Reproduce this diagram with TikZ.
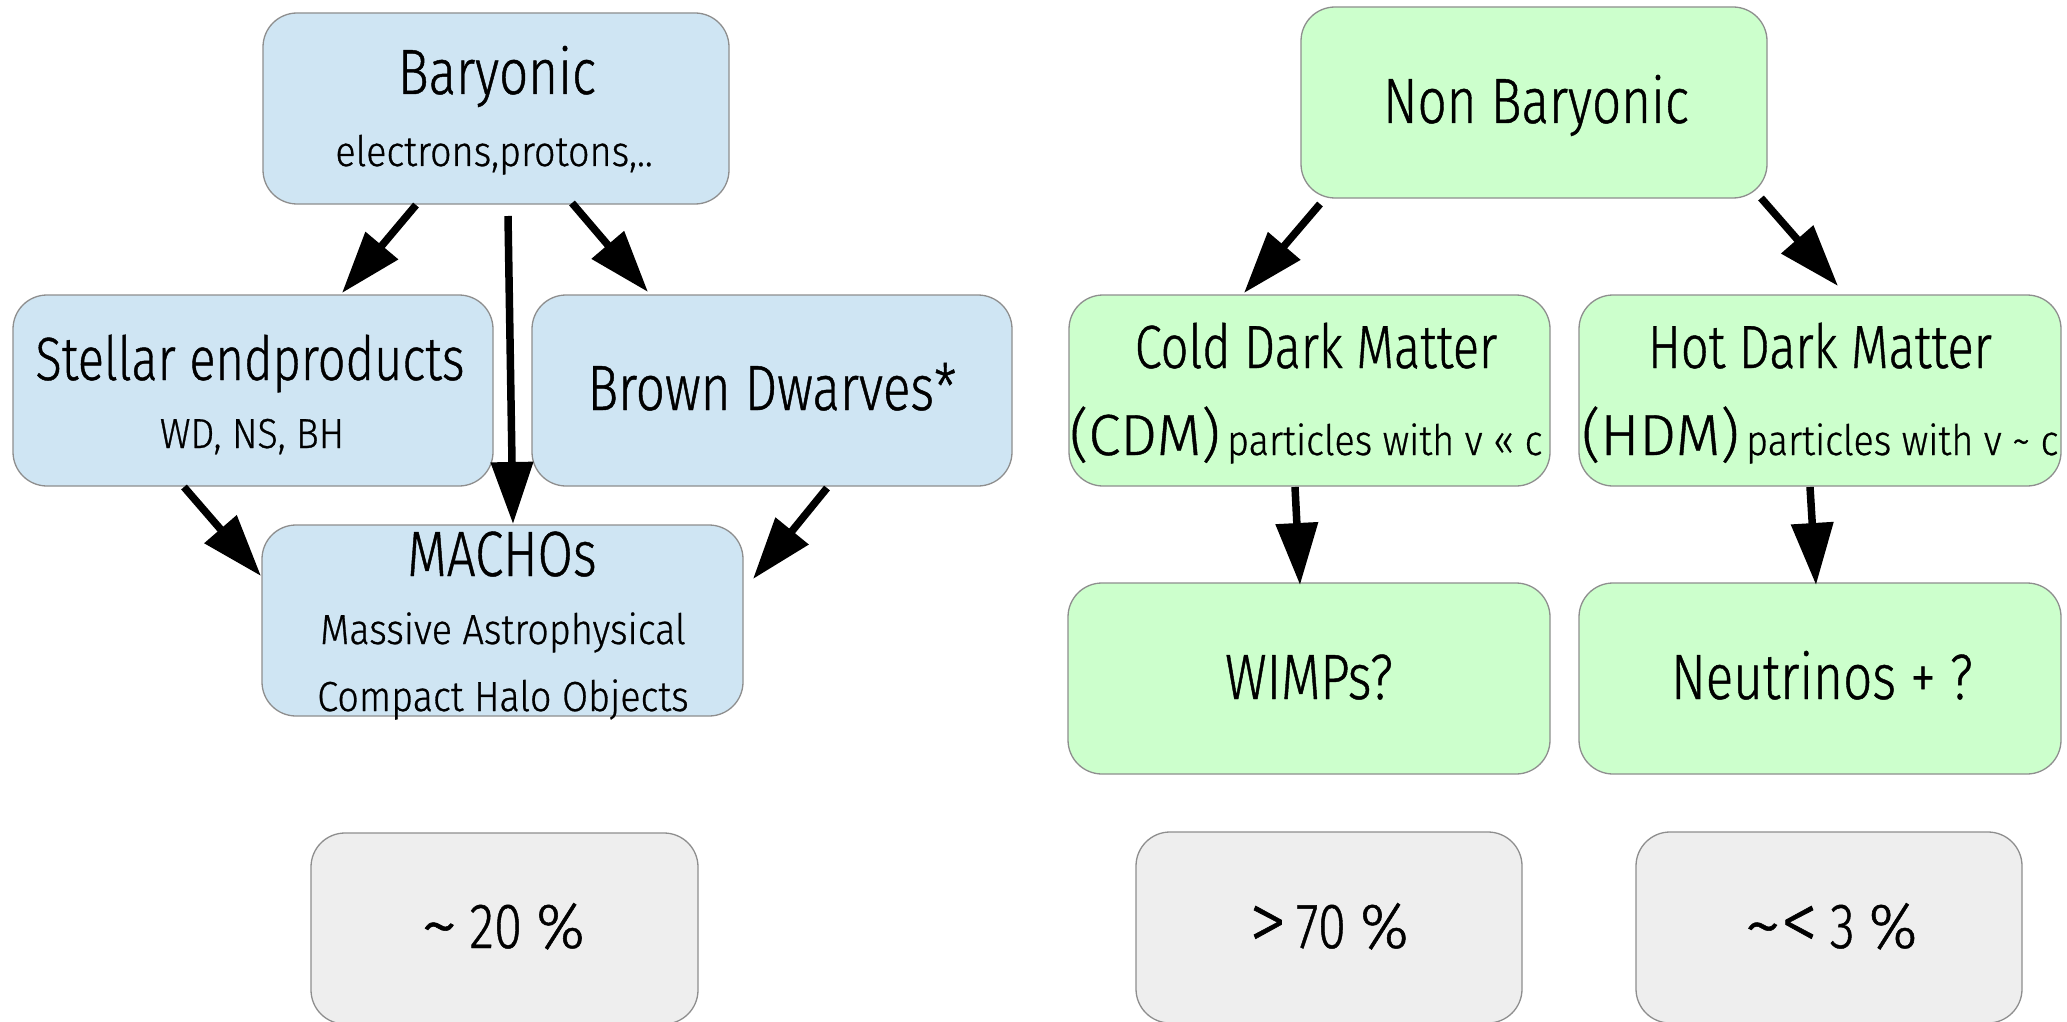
\documentclass[tikz,border=0pt]{standalone}
\usepackage{fontspec}
\setmainfont{Fira Sans}[UprightFont={* Light}, FakeStretch=0.8, FakeBold=0.7]
\newfontfamily\widefam{Fira Sans}[UprightFont={* Light}, FakeStretch=0.9, FakeBold=0.7]
\newfontfamily\fullfam{Fira Sans}[UprightFont={* Light}, FakeBold=0.7]
\usetikzlibrary{arrows.meta,calc}

\definecolor{barblue}{HTML}{CFE5F3}
\definecolor{nbgreen}{HTML}{CCFFCC}
\definecolor{pctgray}{HTML}{EEEEEE}
\definecolor{edgegray}{HTML}{8E8E8E}

\newcommand\bigtxt{\fontsize{64}{72}\selectfont}
\newcommand\midtxt{\fontsize{61}{70}\selectfont}
\newcommand\abbrtxt{\fullfam\fontsize{58}{66}\selectfont}
\newcommand\smalltxt{\widefam\fontsize{42}{50}\selectfont}
% wider relation signs, tilde and percent sign of the percentage labels
\newcommand\wtilde{\raisebox{-3pt}{\scalebox{1.5}[1.2]{\textasciitilde}}}
\newcommand\wless{\raisebox{-2pt}{\scalebox{1.45}[1.3]{<}}}
\newcommand\wmore{\raisebox{-2pt}{\scalebox{1.45}[1.3]{>}}}
\newcommand\wpct{\scalebox{1.2}[1]{\%}}

\begin{document}
\begin{tikzpicture}[x=1pt,y=-1pt,
  box/.style={draw=edgegray, line width=1.3pt, rounded corners=34pt,
    anchor=north west, inner sep=0pt, outer sep=0pt, minimum height=191pt},
  bluebox/.style={box, fill=barblue},
  greenbox/.style={box, fill=nbgreen},
  graybox/.style={box, fill=pctgray},
  txt/.style={anchor=base, inner sep=0pt, outer sep=0pt},
  flow/.style={line width=7.5pt, -{Triangle[length=62pt,width=41pt]}}]

\fill[white] (0,0) rectangle (2067,1022);
\useasboundingbox (0,0) rectangle (2067,1022);

% baryonic branch
\node[bluebox, minimum width=466pt] (bary) at (263,13) {};
\node[bluebox, minimum width=480pt] (stell) at (13,295) {};
\node[bluebox, minimum width=480pt] (brown) at (532,295) {};
\node[bluebox, minimum width=481pt] (macho) at (262,525) {};
\node[graybox, minimum width=387pt] (pctA) at (311,833) {};

% non-baryonic branch
\node[greenbox, minimum width=466pt] (nonb) at (1301,7) {};
\node[greenbox, minimum width=481pt] (cdm) at (1069,295) {};
\node[greenbox, minimum width=482pt] (hdm) at (1579,295) {};
\node[greenbox, minimum width=482pt] (wimp) at (1068,583) {};
\node[greenbox, minimum width=482pt] (neut) at (1579,583) {};
\node[graybox, minimum width=386pt] (pctB) at (1136,832) {};
\node[graybox, minimum width=386pt] (pctC) at (1636,832) {};

% labels
\node[txt, font=\bigtxt] (baryT) at (497,94) {Baryonic};
\node[txt, font=\smalltxt] (baryS) at (494,166) {electrons,protons,..};
\node[txt, font=\midtxt] (stellT) at (250,380) {Stellar endproducts};
\node[txt, font=\smalltxt] (stellS) at (252,448) {WD, NS, BH};
\node[txt, font=\bigtxt] (brownT) at (772,410) {Brown Dwarves*};
\node[txt, font=\bigtxt] (machoT) at (502,576) {MACHOs};
\node[txt, font=\smalltxt] (machoS) at (503,644) {Massive Astrophysical};
\node[txt, font=\smalltxt] (machoU) at (503,711) {Compact Halo Objects};
\node[txt, font=\bigtxt] (pctAT) at (503,948) {\wtilde\hspace{12pt}20\hspace{14pt}\wpct};

\node[txt, font=\bigtxt] (nonbT) at (1536,123) {Non Baryonic};
\node[txt, font=\midtxt] (cdmT) at (1316,368) {Cold Dark Matter};
\node[txt] (cdmS) at (1306,455) {{\abbrtxt (CDM)}\hspace{7pt}{\smalltxt particles with v « c}};
\node[txt, font=\midtxt] (hdmT) at (1820,368) {Hot Dark Matter};
\node[txt] (hdmS) at (1820,455) {{\abbrtxt (HDM)}\hspace{7pt}{\smalltxt particles with v \textasciitilde{} c}};
\node[txt, font=\bigtxt] (wimpT) at (1309,699) {WIMPs?};
\node[txt, font=\bigtxt] (neutT) at (1822,699) {Neutrinos + ?};
\node[txt, font=\bigtxt] (pctBT) at (1329,948) {\wmore\hspace{10pt}70\hspace{14pt}\wpct};
\node[txt, font=\bigtxt] (pctCT) at (1831,948) {\wtilde\wless\hspace{12pt}3\hspace{14pt}\wpct};

% connectors
\draw[flow] ($(bary.south west)+(153,1)$) -- ($(stell.north west)+(329,-2)$);
\draw[flow] ($(bary.south west)+(245,12)$) -- ($(macho.north west)+(251,-1)$);
\draw[flow] ($(bary.south west)+(309,-1)$) -- ($(brown.north west)+(116,-3)$);
\draw[flow] ($(stell.south west)+(171,1)$) -- ($(macho.north west)+(-1,51)$);
\draw[flow] ($(brown.south west)+(295,2)$) -- ($(macho.north east)+(10,54)$);
\draw[flow] ($(nonb.south west)+(19,6)$) -- ($(cdm.north west)+(175,-2)$);
\draw[flow] ($(nonb.south west)+(460,0)$) -- ($(hdm.north west)+(259,-9)$);
\draw[flow] ($(cdm.south west)+(226,1)$) -- ($(wimp.north west)+(232,2)$);
\draw[flow] ($(hdm.south west)+(231,1)$) -- ($(neut.north west)+(237,2)$);
\end{tikzpicture}
\end{document}
